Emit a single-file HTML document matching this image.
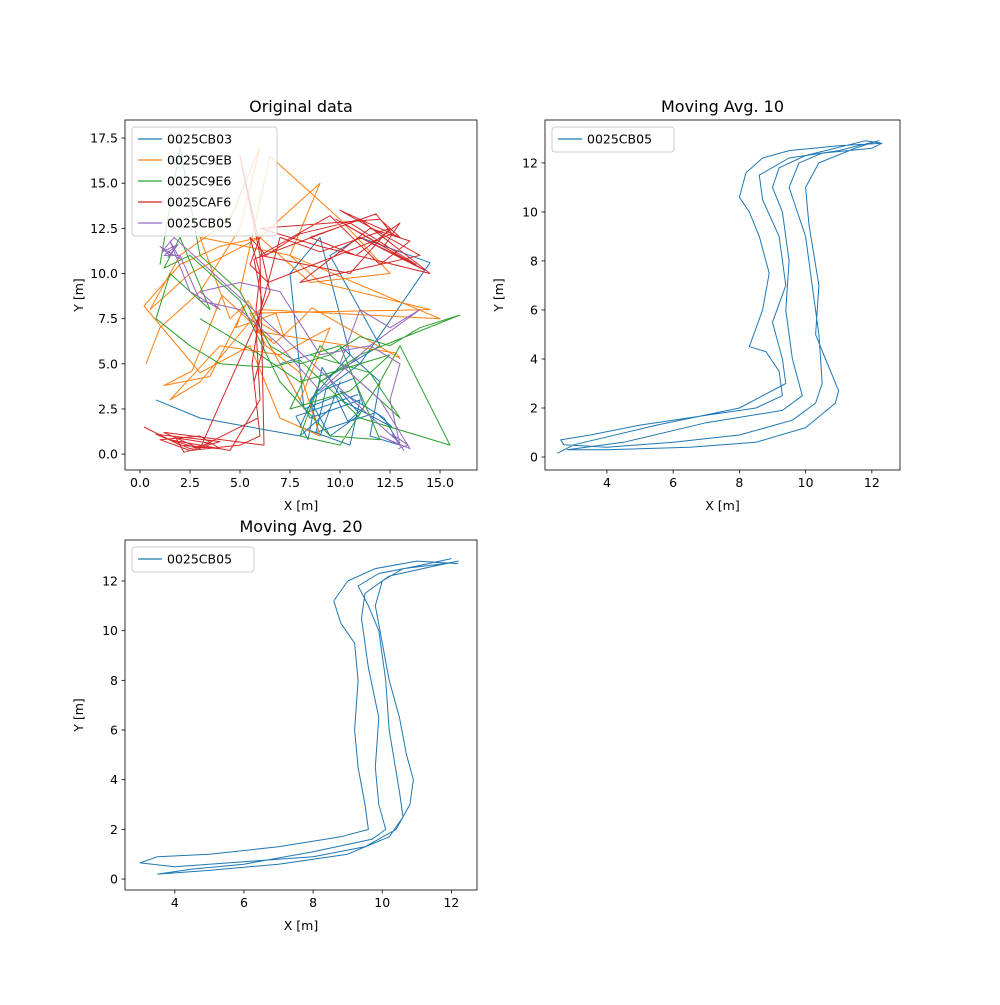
<!DOCTYPE html>
<html><head><meta charset="utf-8"><style>
body{margin:0;background:#fff}
svg text{font-family:"DejaVu Sans","Liberation Sans",sans-serif;fill:#000}
</style></head><body>
<svg id="fig" width="1000" height="1000" xmlns="http://www.w3.org/2000/svg"></svg>
<script>
// ---- data ----
const ticksX1=[0,2.5,5,7.5,10,12.5,15];
const ticksY1=[0,2.5,5,7.5,10,12.5,15,17.5];
const ticksX2=[4,6,8,10,12];
const ticksY2=[0,2,4,6,8,10,12];
const seriesNames=["0025CB03","0025C9EB","0025C9E6","0025CAF6","0025CB05"];
const seriesColors=["#1f77b4","#ff7f0e","#2ca02c","#d62728","#9467bd"];
const blueX=[0.8,3,5.5,8,9.5,10,9,8.5,11,14.5,11,9.5,10.5,12,9,8,10.5,11,8.5,7,10,12,11.5,13,12.2,10,11,9.5,8.5,10.5,9,7.5,8.2,9.8,10.4,11.2,10.7,9.3,8.8,11.8,12.6,10.2,9.1,8.4,7.8,10.9];
const blueY=[3,2,1.5,1,2.5,4,1,3,5,10.6,12,11,9,6,4,1.5,0.5,3,2,5,6,4,1,0.5,2,3.5,2.2,1,3,5.5,12,10,2.5,3.2,1.8,2.6,4.2,3.6,1.2,2.3,1.5,2.9,4.8,0.8,2.1,3.3];
const orangeX=[0.3,1,3,5,6,4.5,2,0.5,2.5,6,9,7.5,15,6,3,1.5,4,7,9.5,8,5,6.5,10,12.5,8.5,6,4,2,0.2,3,5.5,7,9,8,6.3,5.5,14.5,9,7.5,3,4.5,5.2,4.8,6.8,7.2,6.1,5.4,3.5,1.2,2.6,4.1,6.7,7.9,8.6,13,12.8,5.8,6.6];
const orangeY=[5,7,9,12.5,17,13,11,8,10,12,15,11,7.5,8,4,3,6,5.5,7,3,9,16.5,13,10,9.5,12,11.5,10.5,8.2,4.5,6,2,1,4.5,6,7.8,8,9.5,11,12,7.5,8.2,7,7.8,6.5,7.2,8.5,4.3,3.8,4.6,8.8,6.1,7.3,8.1,5.3,5.6,6.8,6.3];
const greenX=[1,2,3,5,6.5,8,9.5,11,12.5,14,16,11,9,8,10,12,13,15.5,11,8,6.5,4,2.5,0.8,1.5,3.5,2,1.2,2.5,5,7,9.5,12,10,8.5,11.5,13,9,7.5,10.5,12.5,8,6,3];
const greenY=[10.5,17,11,9,6,5,5.5,6.5,6,7,7.7,5.5,4,1,0.5,4,6,0.5,2,5.2,4.8,5,6,7.5,10,8,12,10.3,11,8.5,4,1,0.8,6,5.5,4.5,2,6,2.5,3.5,5.5,4,5.5,7.5];
const redX=[0.2,2,4,3,1,2.5,5,6,5.7,6.2,5.8,6,5.5,6.3,8,11,14.5,9,6,12,13,10,14,8,11.5,13.5,12,9.5,6,5,6.5,3,1.5,4.5,6,5.8,7,9,12.5,10.5,6,6.2,1.2,2.8,3.5,1.8,2.2,4,0.8,2.5,3.2,5.9,5.6,6.1,5.7,10.5,13.8,11,14.2,9.8,12.2,13,10.8,8.5,11.8,12.6,6.4,5.5,6];
const redY=[1.5,0.5,0.3,1,0.8,0.2,0.5,1,4,6,8,10,12,11,12.2,13,10,11.5,12.5,13,12,13.5,11,9.5,12.5,11.8,10.5,13.2,11,16.5,9,0.3,0.8,0.2,3,7,12,11.2,12.5,10,11,0.5,1.2,0.4,0.6,0.9,0.1,0.7,1.1,0.3,0.5,2,5,8.5,10.8,12.8,10.5,12,10.2,13,11.5,12.8,11,12,13.3,12.2,9.5,10.5,12];
const purpleX=[1.5,1,2,1.5,2.5,4,3,5,7,9,11.5,13,12.5,13,12,13.5,12,10,11,12.5,14,11.5,9,7,5,3,2,1.2,1.8,1.4,1.9,1.1,1.7,12.8,13.2,12.6,13.4,12.9];
const purpleY=[11,11.5,10.8,11.8,9,8,9,9.5,9,5.5,6,5,3,0.5,1,0.3,3,5,8,7,8,6,3.5,6,8,8.5,11,11,11.5,10.9,11.6,11.2,12,0.8,0.2,1.1,0.5,0.3];
const ma10X=[12.3,11,9.5,8.7,8.2,8.0,8.3,8.6,8.9,8.7,8.3,8.8,9.2,9.3,8.5,7,5,3.5,2.6,2.7,4,6,8,9.6,10.3,10.5,10.4,10.2,10.0,9.5,9.8,10.5,12,12.3,11.8,10,9.2,9.0,9.3,9.5,9.4,9.6,9.9,9.3,7,4.5,2.8,4,6.5,8.5,10,10.9,11,10.6,10.3,10.4,10.1,10.0,10.4,11.5,12.2,11,9.5,8.6,8.7,9.2,9.4,9.0,9.3,9.4,8,5.5,3,2.5];
const ma10Y=[12.8,12.7,12.5,12.2,11.6,10.6,10,9,7.5,6,4.5,4.3,3.5,2.5,2,1.7,1.3,0.9,0.7,0.5,0.4,0.6,0.9,1.5,2.2,3,5,7,9,11,12,12.4,12.6,12.8,12.9,12.3,11.8,11,10,8,6,4,2.5,1.9,1.4,0.6,0.3,0.3,0.4,0.6,1.2,2.2,2.7,4,5,7,9.5,11,12,12.6,12.9,12.5,12.2,11.5,10.5,9,7,5.5,4,3,2,1.3,0.5,0.15];
const ma20X=[12.2,11,9.8,9.0,8.6,8.8,9.2,9.3,9.2,9.3,9.5,9.6,8.8,7,5,3.5,3.0,4,6,8,9.5,10.4,10.8,10.9,10.7,10.5,10.2,10.0,9.8,10.0,10.6,11.8,12.2,11.5,10.2,9.5,9.4,9.6,9.9,9.8,9.9,10.1,9.7,8,6,4.5,3.5,5,7,9,10.2,10.6,10.5,10.2,10.1,9.9,9.6,9.3,9.9,11,12];
const ma20Y=[12.7,12.8,12.5,12.0,11.2,10.3,9.5,8,6,4.5,3,2,1.7,1.3,1.0,0.9,0.65,0.5,0.7,0.9,1.3,2,3,4,5,6.5,8,9.5,11,12,12.5,12.7,12.8,12.6,12.2,11.5,10.5,8.5,6.5,4.5,3,2,1.6,1.1,0.6,0.4,0.2,0.35,0.6,1,1.7,2.5,3.5,6,8,10,11,11.8,12.3,12.6,12.9];

const NS="http://www.w3.org/2000/svg";
const svg=document.getElementById('fig');
function mk(tag,attrs,parent){const e=document.createElementNS(NS,tag);for(const k in attrs)e.setAttribute(k,attrs[k]);(parent||svg).appendChild(e);return e;}

function axes(o){
  const g=mk('g',{});
  
  
  const sx=v=>o.x0+(v-o.xmin)/(o.xmax-o.xmin)*(o.x1-o.x0);
  const sy=v=>o.y1-(v-o.ymin)/(o.ymax-o.ymin)*(o.y1-o.y0);
  const clipId='c'+o.name;
  const cp=mk('clipPath',{id:clipId},g);mk('rect',{x:o.x0,y:o.y0,width:o.x1-o.x0,height:o.y1-o.y0},cp);
  const pg=mk('g',{'clip-path':'url(#'+clipId+')'},g);
  o.series.forEach((s,i)=>{
    const d=s.x.map((v,j)=>(j?'L':'M')+sx(v).toFixed(1)+' '+sy(s.y[j]).toFixed(1)).join('');
    const p=mk('path',{d:d,fill:'none',stroke:s.color,'stroke-width':1,'stroke-linejoin':'round'},pg);
    
    
  });
  mk('rect',{x:o.x0,y:o.y0,width:o.x1-o.x0,height:o.y1-o.y0,fill:'none',stroke:'#000','stroke-width':0.8},g);
  o.tx.forEach(v=>{const X=sx(v);mk('line',{x1:X,x2:X,y1:o.y1,y2:o.y1+3.5,stroke:'#000','stroke-width':0.8},g);
    const t=mk('text',{x:X,y:o.y1+17,'text-anchor':'middle','font-size':12.5},g);t.textContent=o.fx(v);
    
    });
  o.ty.forEach(v=>{const Y=sy(v);mk('line',{x1:o.x0-3.5,x2:o.x0,y1:Y,y2:Y,stroke:'#000','stroke-width':0.8},g);
    const t=mk('text',{x:o.x0-7,y:Y+4.5,'text-anchor':'end','font-size':12.5},g);t.textContent=o.fx(v);
    
    });
  let t=mk('text',{x:(o.x0+o.x1)/2,y:o.y0-8,'text-anchor':'middle','font-size':16},g);t.textContent=o.title;
  
  
  t=mk('text',{x:(o.x0+o.x1)/2,y:o.y1+40,'text-anchor':'middle','font-size':12.5},g);t.textContent='X [m]';
  
  
  t=mk('text',{x:0,y:0,'text-anchor':'middle','font-size':12.5,transform:'translate('+(o.x0-42)+','+((o.y0+o.y1)/2)+') rotate(-90)'},g);t.textContent='Y [m]';
  
  
  const lg=mk('g',{},g);
  
  
  const lx=o.x0+7,ly=o.y0+7;
  mk('rect',{x:lx,y:ly,width:o.legW,height:o.series.length*21+4,rx:3,fill:'#fff','fill-opacity':0.8,stroke:'#ccc','stroke-width':1},lg);
  o.series.forEach((s,i)=>{const Y=ly+12+i*21;
    mk('line',{x1:lx+6,x2:lx+30,y1:Y,y2:Y,stroke:s.color,'stroke-width':1.2},lg);
    const tt=mk('text',{x:lx+35,y:Y+4.5,'font-size':12.5},lg);tt.textContent=s.label;
    
    });
}
const f1=v=>v.toFixed(1), f0=v=>String(v);
axes({name:'original-data-axes',title:'Original data',x0:125,x1:477,y0:120,y1:470,xmin:-0.75,xmax:16.85,ymin:-0.88,ymax:18.5,tx:ticksX1,ty:ticksY1,fx:f1,legW:145,
  series:[{x:blueX,y:blueY,color:seriesColors[0],label:seriesNames[0]},{x:orangeX,y:orangeY,color:seriesColors[1],label:seriesNames[1]},
  {x:greenX,y:greenY,color:seriesColors[2],label:seriesNames[2]},{x:redX,y:redY,color:seriesColors[3],label:seriesNames[3]},{x:purpleX,y:purpleY,color:seriesColors[4],label:seriesNames[4]}]});
axes({name:'moving-avg-10-axes',title:'Moving Avg. 10',x0:545,x1:900,y0:120,y1:470,xmin:2.13,xmax:12.85,ymin:-0.53,ymax:13.75,tx:ticksX2,ty:ticksY2,fx:f0,legW:122,
  series:[{x:ma10X,y:ma10Y,color:seriesColors[0],label:seriesNames[4]}]});
axes({name:'moving-avg-20-axes',title:'Moving Avg. 20',x0:125,x1:477,y0:540,y1:890,xmin:2.56,xmax:12.74,ymin:-0.44,ymax:13.65,tx:ticksX2,ty:ticksY2,fx:f0,legW:122,
  series:[{x:ma20X,y:ma20Y,color:seriesColors[0],label:seriesNames[4]}]});
</script>
</body></html>
